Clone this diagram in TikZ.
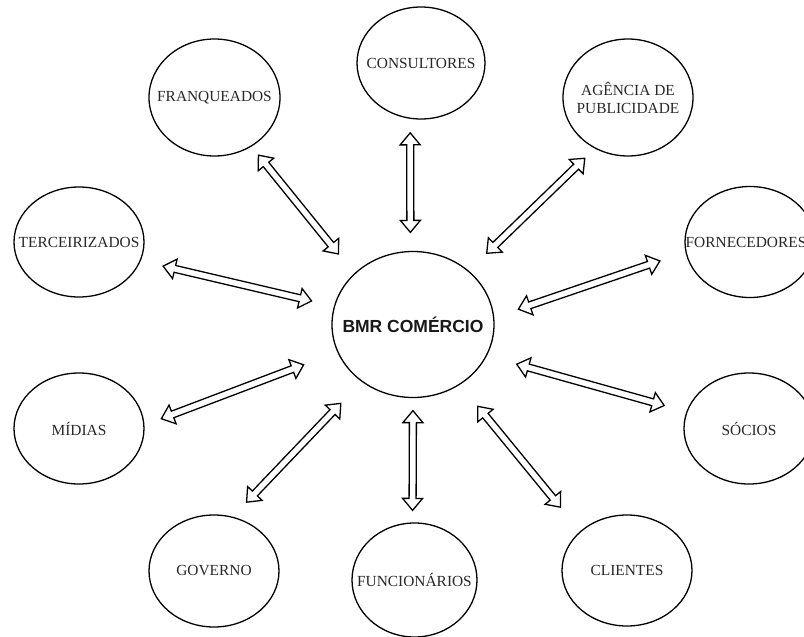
\documentclass[tikz,border=0pt]{standalone}
\usepackage{fontspec}
\setmainfont{Liberation Serif}
\newfontfamily\bmrfont{Liberation Sans}
\usetikzlibrary{calc,shapes.geometric}
\definecolor{labelgray}{RGB}{40,40,40}
\tikzset{
  party/.style={draw, line width=1.3pt, ellipse, inner sep=0pt},
  partytext/.style={text=labelgray, inner sep=0pt,
    font=\fontsize{15.4}{18}\selectfont, align=center},
  hubtext/.style={text=black!90, inner sep=0pt,
    font=\bmrfont\bfseries\fontsize{17.5}{20}\selectfont},
  barrow/.style 2 args={draw, line width=1.3pt, fill=white, line join=miter,
    to path={
      let \p1=($(\tikztostart)!#1!(\tikztotarget)$),
          \p2=($(\tikztotarget)!#2!(\tikztostart)$),
          \n1={atan2(\y2-\y1,\x2-\x1)},
          \n2={veclen(\x2-\x1,\y2-\y1)}
      in ([shift={(\p1)},rotate=\n1]0pt,0pt)
      -- ([shift={(\p1)},rotate=\n1]12pt,10pt)
      -- ([shift={(\p1)},rotate=\n1]12pt,3.5pt)
      -- ([shift={(\p1)},rotate=\n1]\n2-12pt,3.5pt)
      -- ([shift={(\p1)},rotate=\n1]\n2-12pt,10pt)
      -- ([shift={(\p1)},rotate=\n1]\n2,0pt)
      -- ([shift={(\p1)},rotate=\n1]\n2-12pt,-10pt)
      -- ([shift={(\p1)},rotate=\n1]\n2-12pt,-3.5pt)
      -- ([shift={(\p1)},rotate=\n1]12pt,-3.5pt)
      -- ([shift={(\p1)},rotate=\n1]12pt,-10pt)
      -- cycle}}
}
\begin{document}
\begin{tikzpicture}[x=1pt,y=-1pt]
\useasboundingbox[fill=white] (0,0) rectangle (804,637);
\clip (0,0) rectangle (804,637);

\node[party, minimum width=162pt, minimum height=146pt,
  label={[hubtext]center:BMR COMÉRCIO}] (bmr) at (413,324.5) {};

\node[party, minimum width=128pt, minimum height=112pt,
  label={[partytext]center:CONSULTORES}] (cons) at (421,63) {};
\node[party, minimum width=131pt, minimum height=117pt,
  label={[partytext]center:FRANQUEADOS}] (franq) at (214.5,97.5) {};
\node[party, minimum width=130pt, minimum height=117pt,
  label={[partytext]center:AGÊNCIA DE\\PUBLICIDADE}] (agen) at (628,97.5) {};
\node[party, minimum width=130pt, minimum height=110pt,
  label={[partytext]center:TERCEIRIZADOS}] (terc) at (79,242) {};
\node[party, minimum width=130pt, minimum height=111pt,
  label={[partytext, xshift=-4pt]center:FORNECEDORES}] (forn) at (750,242) {};
\node[party, minimum width=130pt, minimum height=111pt,
  label={[partytext]center:MÍDIAS}] (midias) at (79,428.5) {};
\node[party, minimum width=130pt, minimum height=111pt,
  label={[partytext]center:SÓCIOS}] (socios) at (749,428.5) {};
\node[party, minimum width=130pt, minimum height=112pt,
  label={[partytext]center:GOVERNO}] (gov) at (214,571) {};
\node[party, minimum width=125pt, minimum height=114pt,
  label={[partytext]center:FUNCIONÁRIOS}] (func) at (414.5,580) {};
\node[party, minimum width=130pt, minimum height=111pt,
  label={[partytext]center:CLIENTES}] (cli) at (627,570.5) {};

\draw[barrow={25pt}{11pt}] (bmr.139.5) to (franq.-53.5);
\draw[barrow={23pt}{23pt}] (bmr.167.4) to (terc.-17.4);
\draw[barrow={18.5pt}{14pt}] (bmr.92) to (cons.-101.3);
\draw[barrow={25pt}{13.6pt}] (bmr.44.8) to (agen.-123.7);
\draw[barrow={25.5pt}{27pt}] (bmr.5.1) to (forn.189.5);
\draw[barrow={36pt}{18pt}] (bmr.200.4) to (midias.3.1);
\draw[barrow={30pt}{20pt}] (bmr.228.6) to (gov.71.1);
\draw[barrow={12.5pt}{12pt}] (bmr.-90.7) to (func.92);
\draw[barrow={31pt}{23pt}] (bmr.-23.1) to (socios.165.8);
\draw[barrow={28pt}{31pt}] (bmr.-52.6) to (cli.140.1);
\end{tikzpicture}
\end{document}
